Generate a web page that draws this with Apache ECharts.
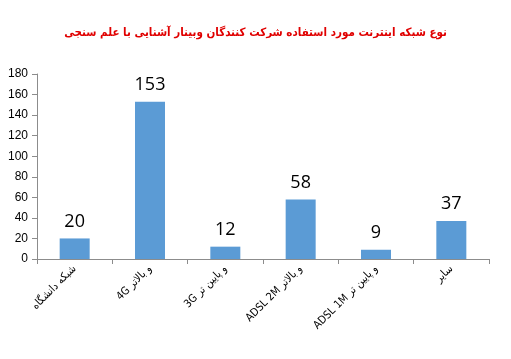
<!DOCTYPE html>
<html><head><meta charset="utf-8">
<script src="https://cdn.jsdelivr.net/npm/echarts@6/dist/echarts.min.js"></script>
<style>html,body{margin:0;padding:0;background:#fff}#c{width:511px;height:359px}</style>
</head><body><div id="c"></div>
<script>
var categories = ["شبکه دانشگاه", "4G و بالاتر", "3G و پایین تر", "ADSL 2M و بالاتر", "ADSL 1M و پایین تر", "سایر"];
var values = [20, 153, 12, 58, 9, 37];
var titleText = "نوع شبکه اینترنت مورد استفاده شرکت کنندگان وبینار آشنایی با علم سنجی";

var chart = echarts.init(document.getElementById('c'));
chart.setOption({
  animation: false,
  title: {
    text: titleText, left: 'center', top: 22,
    textStyle: { color: '#e00000', fontSize: 11.5, fontWeight: 'bold', fontFamily: 'DejaVu Sans Condensed' }
  },
  grid: { left: 37, right: 22, top: 74, bottom: 100 },
  xAxis: {
    type: 'category', data: categories,
    axisLine: { lineStyle: { color: '#8c8c8c' } },
    axisTick: { show: true, length: 5, lineStyle: { color: '#8c8c8c' } },
    axisLabel: { rotate: 45, interval: 0, color: '#000', fontSize: 11, fontFamily: 'DejaVu Sans Condensed', margin: 8 }
  },
  yAxis: {
    type: 'value', min: 0, max: 180, interval: 20,
    axisLine: { show: true, lineStyle: { color: '#8c8c8c' } },
    axisTick: { show: true, length: 5, lineStyle: { color: '#8c8c8c' } },
    splitLine: { show: false },
    axisLabel: { color: '#000', fontSize: 12, fontFamily: 'Liberation Sans', margin: 9 }
  },
  series: [{
    type: 'bar', data: values, barWidth: 30,
    itemStyle: { color: '#5b9bd5' },
    label: { show: true, position: 'top', distance: 8, color: '#000', fontSize: 18, fontFamily: 'Open Sans' }
  }]
});
</script></body></html>
